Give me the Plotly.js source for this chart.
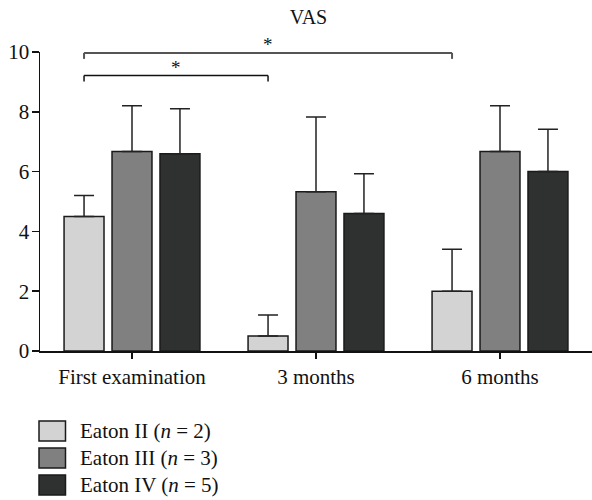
<!DOCTYPE html>
<html><head><meta charset="utf-8">
<script src="https://cdn.plot.ly/plotly-3.0.1.min.js"></script>
<style>html,body{margin:0;padding:0;background:#fff}</style>
</head><body><div id="chart" style="width:592px;height:500px"></div>
<script>
// ---- data ----
const categories = ['First examination', '3 months', '6 months'];
const seriesNames = ['Eaton II (<i>n</i> = 2)', 'Eaton III (<i>n</i> = 3)', 'Eaton IV (<i>n</i> = 5)'];
const eatonII = [4.5, 0.5, 2.0];
const eatonIIErr = [0.7, 0.7, 1.4];
const eatonIII = [6.67, 5.33, 6.67];
const eatonIIIErr = [1.53, 2.5, 1.53];
const eatonIV = [6.6, 4.6, 6.0];
const eatonIVErr = [1.5, 1.33, 1.42];
const yTickVals = [0, 2, 4, 6, 8, 10];
// significance comparisons between Eaton II bars: [fromCategory, toCategory, label, level]
const comparisons = [[0, 1, '*', 9.21], [0, 2, '*', 9.97]];

// ---- style ----
const FONT = '"Liberation Serif", "Times New Roman", serif';
const colors = ['#d3d3d3', '#808080', '#2f3130'];
const outline = '#1a1a1a';
const bargap = 0.218;
const W = 592, H = 500, L = 40, R = 0, T = 52, B = 149;

const values = [eatonII, eatonIII, eatonIV];
const errs = [eatonIIErr, eatonIIIErr, eatonIVErr];
const traces = values.map((v, i) => ({
  type: 'bar', x: categories, y: v, name: seriesNames[i],
  marker: {color: colors[i], line: {color: outline, width: 1.5}},
  error_y: {type: 'data', symmetric: false, array: errs[i], arrayminus: v.map(() => 0),
            color: '#222', thickness: 1.5, width: 10},
  showlegend: false, hoverinfo: 'skip'
}));

// offset of first series within a group (category units)
const slot = (1 - bargap) / 3;
const firstOffset = -slot;
const tickDrop = 0.2;
const shapes = [];
const annotations = [];
comparisons.forEach(([a, b, lab, lvl], k) => {
  const x0 = a + firstOffset, x1 = b + firstOffset;
  const col = k === 1 ? '#555' : '#111';
  const lw = k === 1 ? 2 : 1.5;
  shapes.push({type: 'line', xref: 'x', yref: 'y', x0: x0, x1: x1, y0: lvl, y1: lvl, line: {color: col, width: lw}});
  shapes.push({type: 'line', xref: 'x', yref: 'y', x0: x0, x1: x0, y0: lvl, y1: lvl - tickDrop, line: {color: col, width: lw}});
  shapes.push({type: 'line', xref: 'x', yref: 'y', x0: x1, x1: x1, y0: lvl, y1: lvl - tickDrop, line: {color: col, width: lw}});
  annotations.push({xref: 'x', yref: 'y', x: (x0 + x1) / 2, y: lvl, text: lab, showarrow: false,
    yanchor: 'bottom', yshift: -4, font: {family: FONT, size: 19, color: '#111'}});
});

// custom legend (pixel positions -> paper)
const pw = W - L - R, ph = H - T - B;
const px = X => (X - L) / pw;
const py = Y => (H - B - Y) / ph;
seriesNames.forEach((nm, i) => {
  const top = 421 + i * 27;
  shapes.push({type: 'rect', xref: 'paper', yref: 'paper', x0: px(39), x1: px(65.5), y0: py(top), y1: py(top + 20),
    fillcolor: colors[i], line: {color: outline, width: 1.5}});
  annotations.push({xref: 'paper', yref: 'paper', x: px(78), y: py(top + 10), xanchor: 'left', yanchor: 'middle',
    text: nm, showarrow: false, font: {family: FONT, size: 21, color: '#111'}});
});

const layout = {
  width: W, height: H,
  margin: {l: L, r: R, t: T, b: B, pad: 0},
  paper_bgcolor: '#fff', plot_bgcolor: '#fff',
  title: {text: 'VAS', font: {family: FONT, size: 20, color: '#111'}, x: 308.5 / W, xanchor: 'center', xref: 'container',
          y: 1 - 17 / H, yanchor: 'middle', yref: 'container'},
  barmode: 'group', bargap: bargap, bargroupgap: 0.167,
  xaxis: {type: 'category', range: [-0.5, 2.5], showline: true, linecolor: '#111', linewidth: 1.5,
          ticks: 'outside', ticklen: 6, tickwidth: 1.5, tickcolor: '#111', showgrid: false, zeroline: false,
          tickfont: {family: FONT, size: 21, color: '#111'}, fixedrange: true},
  yaxis: {range: [0, 10], tickvals: yTickVals, ticktext: yTickVals.map(String), showline: true, linecolor: '#111', linewidth: 1.5,
          ticks: 'outside', ticklen: 7, tickwidth: 1.5, tickcolor: '#111', showgrid: false, zeroline: false,
          ticklabelstandoff: -2,
          tickfont: {family: FONT, size: 21, color: '#111'}, fixedrange: true},
  shapes: shapes, annotations: annotations, showlegend: false
};
Plotly.newPlot('chart', traces, layout, {staticPlot: true, displayModeBar: false});
</script></body></html>
